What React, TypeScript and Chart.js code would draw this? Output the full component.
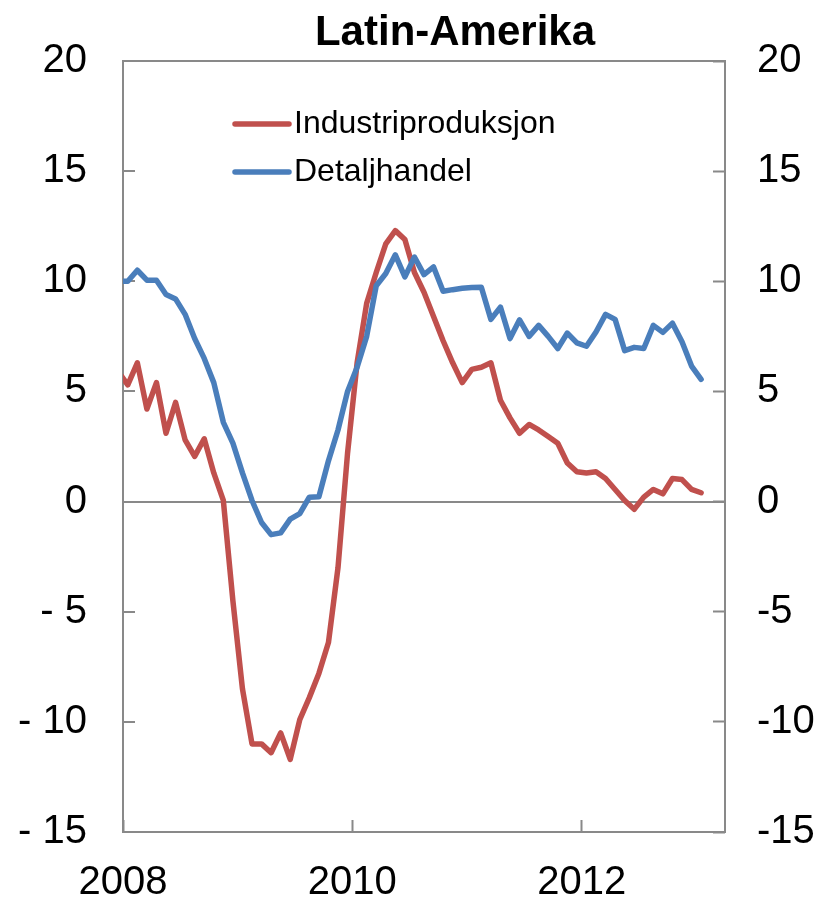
import React, { useEffect, useRef } from "react";
import { Chart, registerables } from "chart.js";

Chart.register(...registerables);

// ---------- data ----------
const chartTitle = "Latin-Amerika";
const seriesNames = ["Industriproduksjon", "Detaljhandel"];

// Monthly observations, Dec 2007 .. Jan 2013 (62 months)
const firstYear = 2007;
const firstMonth = 12;
const months: string[] = Array.from({ length: 62 }, (_, i) => {
  const m = firstMonth - 1 + i;
  const y = firstYear + Math.floor(m / 12);
  return `${y}-${String((m % 12) + 1).padStart(2, "0")}`;
});

const industriproduksjon = [
  5.9, 5.3, 6.3, 4.2, 5.4, 3.1, 4.5, 2.8, 2.05, 2.85, 1.3, 0.05,
  -4.5, -8.5, -11.0, -11.0, -11.4, -10.5, -11.7, -9.9, -8.9, -7.8, -6.4, -3.0,
  2.2, 6.3, 9.0, 10.4, 11.7, 12.3, 11.9, 10.4, 9.5, 8.4, 7.3, 6.3,
  5.4, 6.0, 6.1, 6.3, 4.6, 3.8, 3.1, 3.5, 3.25, 2.95, 2.65, 1.75,
  1.35, 1.3, 1.35, 1.05, 0.55, 0.05, -0.35, 0.2, 0.55, 0.35, 1.05, 1.0,
  0.55, 0.4,
];

const detaljhandel = [
  10.0, 10.0, 10.5, 10.05, 10.05, 9.4, 9.2, 8.5, 7.4, 6.5, 5.4, 3.6,
  2.65, 1.3, 0.05, -0.95, -1.5, -1.42, -0.8, -0.55, 0.2, 0.22, 1.85, 3.25,
  5.0, 6.1, 7.5, 9.8, 10.35, 11.2, 10.2, 11.1, 10.3, 10.65, 9.55, 9.62,
  9.68, 9.72, 9.73, 8.27, 8.83, 7.4, 8.25, 7.5, 8.0, 7.5, 6.95, 7.65,
  7.2, 7.05, 7.7, 8.5, 8.27, 6.85, 7.0, 6.95, 8.0, 7.68, 8.1, 7.25,
  6.15, 5.55,
];

const xTickYears = [2008, 2010, 2012];
const yTickValues = [-15, -10, -5, 0, 5, 10, 15, 20];
const axisStartYear = 2008;
const axisMonths = 63; // Jan 2008 .. Apr 2013

// ---------- styling ----------
const RED = "#C0504D";
const BLUE = "#4A7EBB";
const GRAY = "#898989";
const FONT_FAMILY = "'Liberation Sans', Arial, sans-serif";

// month centre position, measured in months from Jan 2008
const monthPos = (label: string) => {
  const [y, m] = label.split("-").map(Number);
  return (y - axisStartYear) * 12 + (m - 1) + 0.5;
};

const noPad = (s: any) => {
  s.paddingTop = 0;
  s.paddingBottom = 0;
  s.paddingLeft = 0;
  s.paddingRight = 0;
};

const framePlugin = {
  id: "frame",
  beforeDatasetsDraw(chart: any) {
    const { ctx, chartArea: a } = chart;
    ctx.save();
    ctx.strokeStyle = GRAY;
    ctx.lineWidth = 2;
    ctx.strokeRect(a.left, a.top, a.right - a.left, a.bottom - a.top);
    ctx.restore();
  },
};

const titlePlugin = {
  id: "customTitle",
  afterDraw(chart: any) {
    const { ctx } = chart;
    ctx.save();
    ctx.fillStyle = "#000";
    ctx.font = `bold 42px ${FONT_FAMILY}`;
    ctx.textAlign = "center";
    ctx.textBaseline = "alphabetic";
    ctx.fillText(chartTitle, 455, 45);
    ctx.restore();
  },
};

const legendPlugin = {
  id: "insideLegend",
  afterDraw(chart: any) {
    const { ctx, chartArea: a } = chart;
    const x0 = a.left + 112;
    const items = chart.data.datasets.map((d: any) => ({ label: d.label, color: d.borderColor }));
    ctx.save();
    items.forEach((it: any, i: number) => {
      const y = a.top + 63 + i * 48;
      ctx.strokeStyle = it.color;
      ctx.lineWidth = 5.5;
      ctx.lineCap = "round";
      ctx.beginPath();
      ctx.moveTo(x0, y);
      ctx.lineTo(x0 + 54, y);
      ctx.stroke();
      ctx.fillStyle = "#000";
      ctx.font = `32px ${FONT_FAMILY}`;
      ctx.textAlign = "left";
      ctx.textBaseline = "middle";
      ctx.fillText(it.label, x0 + 59, y);
    });
    ctx.restore();
  },
};

export default function App() {
  const ref = useRef<HTMLCanvasElement>(null);

  useEffect(() => {
    const canvas = ref.current;
    if (!canvas) return;
    const tickFont = { family: FONT_FAMILY, size: 40 };
    const xs = months.map(monthPos);
    const chart = new Chart(canvas, {
      type: "line",
      data: {
        datasets: [
          {
            label: seriesNames[0],
            data: industriproduksjon.map((v, i) => ({ x: xs[i], y: v })),
            borderColor: RED,
            backgroundColor: RED,
            borderWidth: 5.5,
            pointRadius: 0,
            tension: 0,
            clip: 0,
            order: 2,
            borderJoinStyle: "round",
            borderCapStyle: "round",
          },
          {
            label: seriesNames[1],
            data: detaljhandel.map((v, i) => ({ x: xs[i], y: v })),
            borderColor: BLUE,
            backgroundColor: BLUE,
            borderWidth: 5.5,
            pointRadius: 0,
            tension: 0,
            clip: 0,
            order: 1,
            borderJoinStyle: "round",
            borderCapStyle: "round",
          },
        ],
      },
      options: {
        responsive: false,
        animation: false,
        devicePixelRatio: 1,
        layout: { padding: { top: 61, left: 0, right: 0, bottom: 0 } },
        plugins: {
          legend: { display: false },
          tooltip: { enabled: false },
          title: { display: false },
        },
        scales: {
          x: {
            type: "linear",
            position: "bottom",
            min: 0,
            max: axisMonths,
            afterBuildTicks: (s: any) => {
              s.ticks = xTickYears.map((y) => ({ value: (y - axisStartYear) * 12 }));
            },
            afterFit: (s: any) => {
              s.height = 68;
              noPad(s);
            },
            ticks: {
              callback: (v: any) => String(axisStartYear + Number(v) / 12),
              font: tickFont,
              color: "#000",
              padding: 39,
              maxRotation: 0,
              autoSkip: false,
            },
            grid: {
              drawOnChartArea: false,
              drawTicks: true,
              tickLength: -12,
              tickColor: GRAY,
              tickWidth: 2,
            },
            border: { display: false },
          },
          y: {
            position: "left",
            min: -15,
            max: 20,
            afterBuildTicks: (s: any) => {
              s.ticks = yTickValues.map((v) => ({ value: v }));
            },
            afterFit: (s: any) => {
              s.width = 123;
              noPad(s);
            },
            ticks: {
              callback: (v: any) => (Number(v) < 0 ? "- " + Math.abs(Number(v)) : String(v)),
              font: tickFont,
              color: "#000",
              padding: 48,
            },
            grid: {
              color: (c: any) => (c.tick && c.tick.value === 0 ? GRAY : "rgba(0,0,0,0)"),
              lineWidth: 2,
              drawTicks: true,
              tickLength: -12,
              tickColor: GRAY,
              tickWidth: 2,
            },
            border: { display: false },
          },
          y2: {
            position: "right",
            min: -15,
            max: 20,
            afterBuildTicks: (s: any) => {
              s.ticks = yTickValues.map((v) => ({ value: v }));
            },
            afterFit: (s: any) => {
              s.width = 101;
              noPad(s);
            },
            ticks: {
              callback: (v: any) => String(v),
              font: tickFont,
              color: "#000",
              padding: 44,
            },
            grid: {
              drawOnChartArea: false,
              drawTicks: true,
              tickLength: -12,
              tickColor: GRAY,
              tickWidth: 2,
            },
            border: { display: false },
          },
        },
      } as any,
      plugins: [framePlugin, titlePlugin, legendPlugin],
    });
    return () => chart.destroy();
  }, []);

  return (
    <div style={{ position: "fixed", left: 0, top: 0, width: 826, height: 900, background: "#fff" }}>
      <canvas ref={ref} width={826} height={900} style={{ width: 826, height: 900, display: "block" }} />
    </div>
  );
}
